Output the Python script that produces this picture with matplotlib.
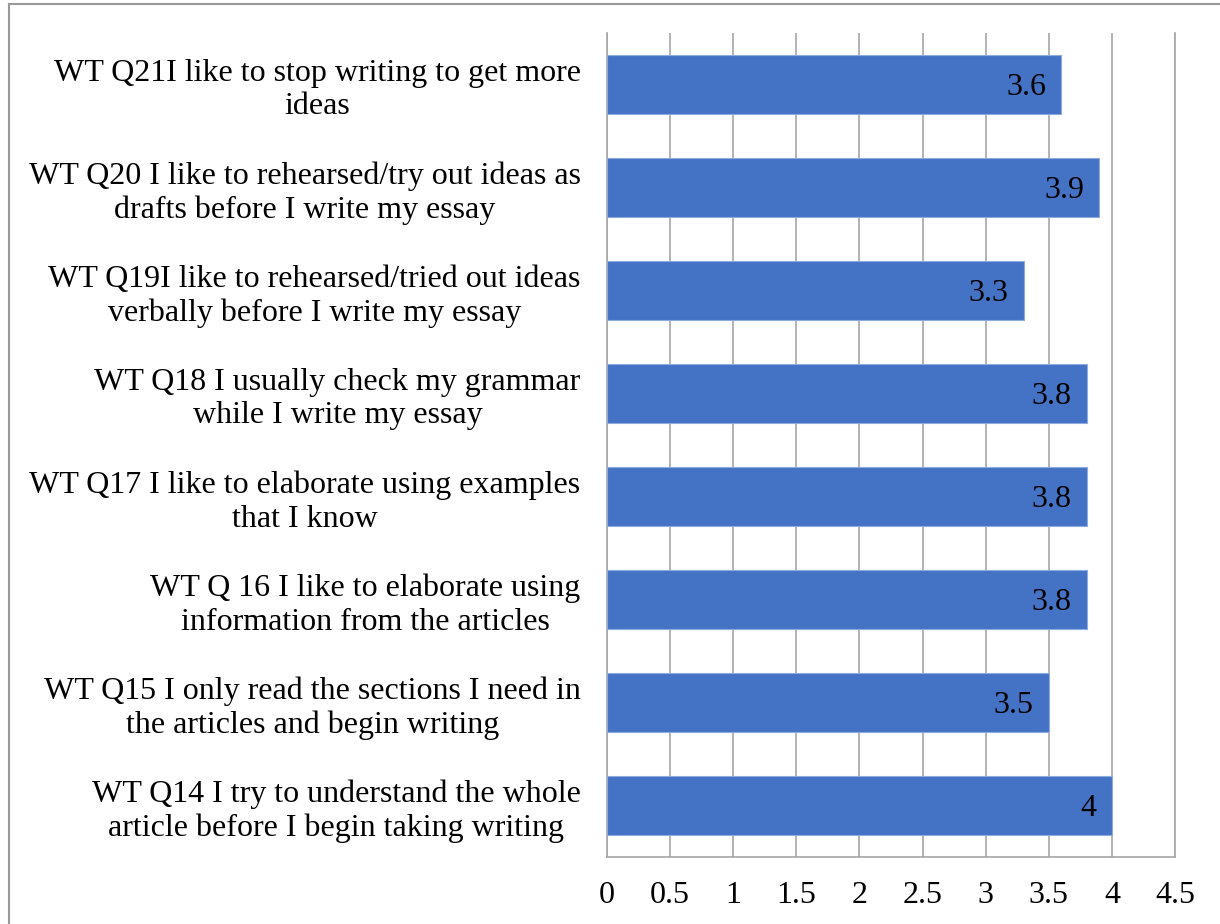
import matplotlib.pyplot as plt
from matplotlib.lines import Line2D

# questions, bottom to top as drawn
questions = [
    "WT Q14 I try to understand the whole\narticle before I begin taking writing",
    "WT Q15 I only read the sections I need in\nthe articles and begin writing",
    "WT Q 16 I like to elaborate using\ninformation from the articles",
    "WT Q17 I like to elaborate using examples\nthat I know",
    "WT Q18 I usually check my grammar\nwhile I write my essay",
    "WT Q19I like to rehearsed/tried out ideas\nverbally before I write my essay",
    "WT Q20 I like to rehearsed/try out ideas as\ndrafts before I write my essay",
    "WT Q21I like to stop writing to get more\nideas",
]
scores = [4, 3.5, 3.8, 3.8, 3.8, 3.3, 3.9, 3.6]
ticks = [0, 0.5, 1, 1.5, 2, 2.5, 3, 3.5, 4, 4.5]
tick_labels = ["0", "0.5", "1", "1.5", "2", "2.5", "3", "3.5", "4", "4.5"]

plt.rcParams['font.family'] = ['Liberation Serif', 'DejaVu Serif']
plt.rcParams['font.size'] = 23

fig = plt.figure(figsize=(12.2, 9.24), dpi=100)
ax = fig.add_axes([607/1220, 1 - 857/924, (1175 - 607)/1220, (857 - 33)/924])

pos = range(len(questions))
bars = ax.barh(pos, scores, height=0.57, color='#4472C4',
               edgecolor='#8FAADC', linewidth=0.8, zorder=3)

for b, v in zip(bars, scores):
    ax.text(v - 0.12, b.get_y() + b.get_height()/2 - 0.03, "{:g}".format(v),
            ha='right', va='center', fontsize=23, color='black', zorder=4)

ax.set_xlim(0, 4.5)
ax.set_ylim(-0.5, len(questions) - 0.5)
ax.set_xticks(ticks)
ax.set_xticklabels(tick_labels)
ax.set_yticks(list(pos))
ax.set_yticklabels(questions, multialignment='center')
ax.tick_params(axis='both', length=0)
ax.tick_params(axis='y', pad=19)
ax.tick_params(axis='x', pad=17)

ax.grid(axis='x', color='#a6a6a6', linewidth=1.2, zorder=0)
ax.spines['top'].set_visible(False)
for s in ['left', 'right', 'bottom']:
    ax.spines[s].set_color('#a6a6a6')
    ax.spines[s].set_linewidth(1.2)

# outer chart frame (cropped at right and bottom)
fig.add_artist(Line2D([9/1220, 9/1220], [0, 1 - 4/924], color='#999999', lw=1.5))
fig.add_artist(Line2D([9/1220, 1], [1 - 4/924, 1 - 4/924], color='#999999', lw=1.5))

fig.savefig('out.png', dpi=100)
